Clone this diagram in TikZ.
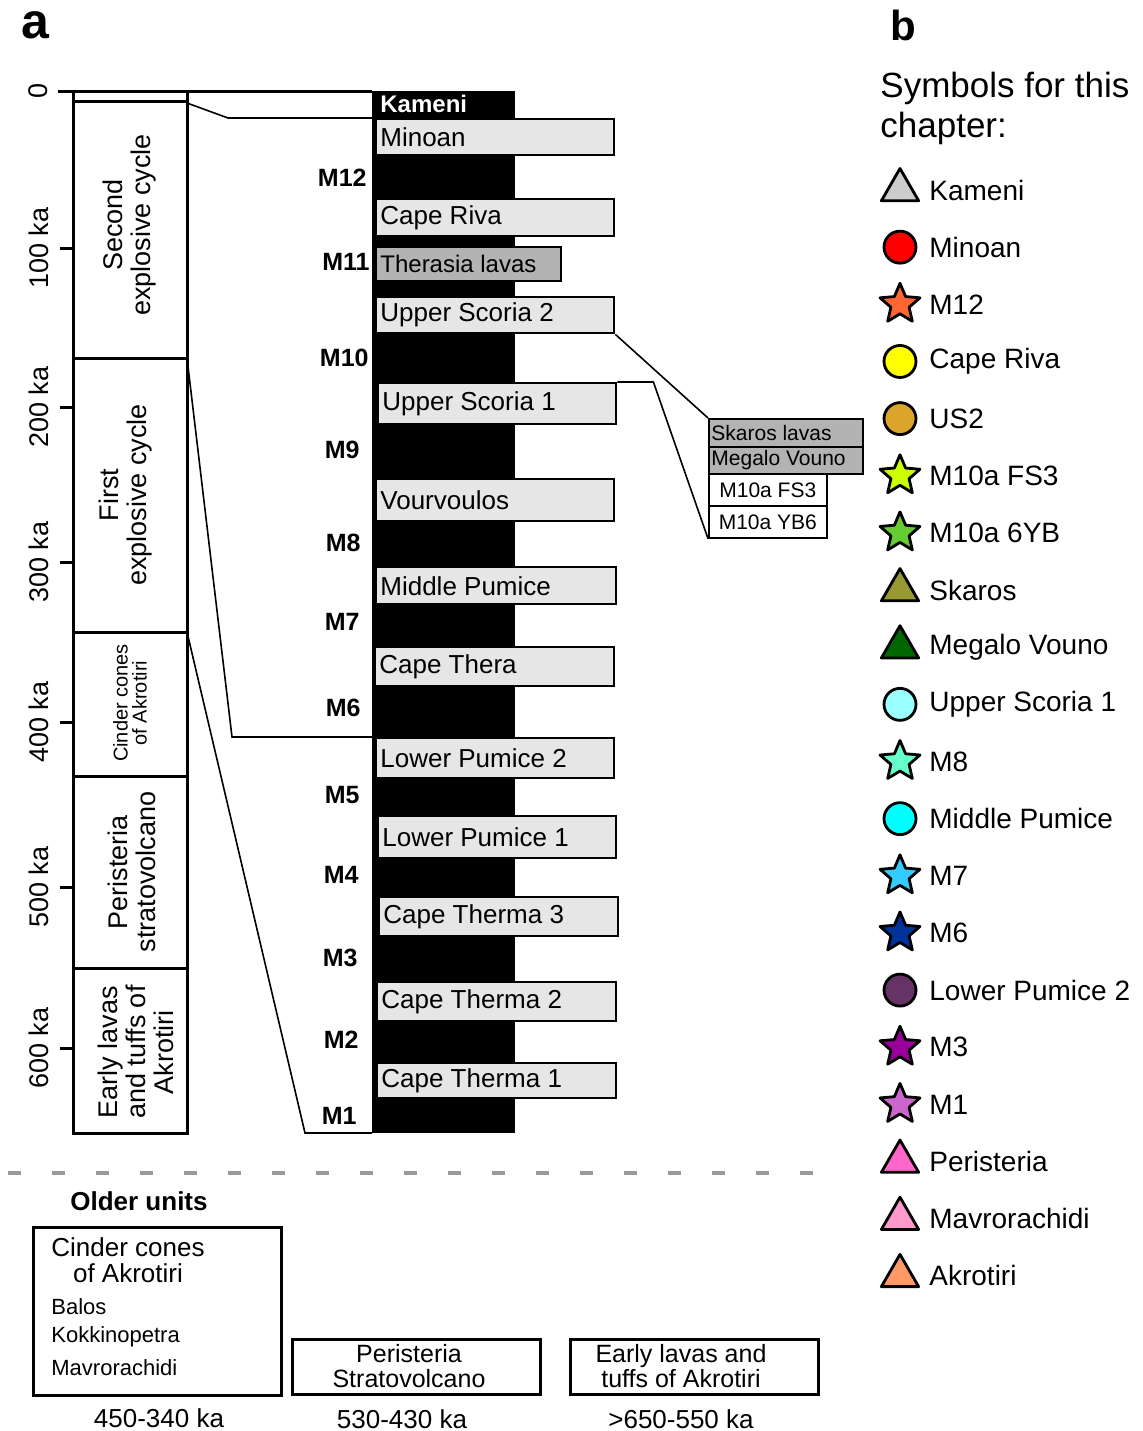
\documentclass[tikz,border=0pt]{standalone}
\usepackage{fontspec}
\setmainfont{Liberation Sans}
\usetikzlibrary{shapes.geometric}

\definecolor{boxlight}{HTML}{E6E6E6}
\definecolor{boxdark}{HTML}{B3B3B3}
\definecolor{dashc}{HTML}{999999}
\definecolor{kamc}{HTML}{CCCCCC}
\definecolor{minc}{HTML}{FF0000}
\definecolor{m12c}{HTML}{FF6633}
\definecolor{rivc}{HTML}{FFFF00}
\definecolor{us2c}{HTML}{DAA52A}
\definecolor{fs3c}{HTML}{CCFF00}
\definecolor{ybc}{HTML}{66CC33}
\definecolor{skc}{HTML}{999933}
\definecolor{mvc}{HTML}{006600}
\definecolor{us1c}{HTML}{99FFFF}
\definecolor{m8c}{HTML}{66FFCC}
\definecolor{mpc}{HTML}{00FFFF}
\definecolor{m7c}{HTML}{33CCFF}
\definecolor{m6c}{HTML}{003399}
\definecolor{lp2c}{HTML}{663366}
\definecolor{m3c}{HTML}{990099}
\definecolor{m1c}{HTML}{CC66CC}
\definecolor{perc}{HTML}{FF66CC}
\definecolor{mavc}{HTML}{FF99CC}
\definecolor{akrc}{HTML}{FF9966}

\tikzset{
  frame/.style={line width=1.5pt},
  link/.style={line width=0.8pt},
  axlabel/.style={font=\fontsize{13.5}{14}\selectfont, rotate=90, inner sep=0pt},
  unittext/.style={font=\fontsize{13.5}{14}\selectfont, rotate=90, align=center, inner sep=0pt},
  mlabel/.style={font=\fontsize{12.5}{12.5}\selectfont\bfseries, inner sep=0pt, anchor=east},
  graybox/.style={draw, line width=1.2pt, anchor=north west, inner sep=0pt},
  boxtext/.style={font=\fontsize{13}{13}\selectfont, inner sep=0pt, anchor=west},
  sidebox/.style={draw, line width=0.8pt, anchor=north west, inner sep=0pt},
  sidetext/.style={font=\fontsize{10.5}{10.5}\selectfont, inner sep=0pt},
  legtext/.style={font=\fontsize{14}{14}\selectfont, inner sep=0pt, anchor=west},
  trimark/.style={regular polygon, regular polygon sides=3, draw, line width=1.4pt, line join=round, minimum size=21.5pt, inner sep=0pt},
  dotmark/.style={circle, draw, line width=1.4pt, minimum size=16pt, inner sep=0pt},
  starmark/.style={star, star points=5, star point ratio=2.2, draw, line width=1.4pt, line join=round, minimum size=21pt, inner sep=0pt},
  olderbox/.style={draw, line width=1.4pt, anchor=north west, inner sep=0pt},
  oldertext/.style={font=\fontsize{12.5}{12.5}\selectfont, align=center, inner sep=0pt}
}

\begin{document}
\begin{tikzpicture}[x=0.5pt, y=-0.5pt]
  \useasboundingbox (0,0) rectangle (1142,1431);

  % panel letters
  \node[font=\fontsize{25}{25}\selectfont\bfseries, inner sep=0pt] (pa) at (35,25) {a};
  \node[font=\fontsize{21}{21}\selectfont\bfseries, inner sep=0pt] (pb) at (903,25) {b};

  % age axis and unit column
  \draw[frame] (58,91) -- (372,91);
  \draw[frame] (73,91) -- (73,1133) -- (187,1133) -- (187,91);
  \foreach \yy in {101,358,632,776,968}
    \draw[frame] (73,\yy) -- (187,\yy);
  \node[axlabel] (ax0) at (38,91) {0};
  \foreach \a/\yy in {100/248,200/407,300/562,400/722,500/887,600/1048} {
    \draw[frame] (60,\yy) -- (73,\yy);
    \node[axlabel] (ax\a) at (39,\yy) {\a\ ka};
  }
  \node[unittext] (second) at (130,225) {Second\\explosive cycle};
  \node[unittext] (first) at (126,495) {First\\explosive cycle};
  \node[unittext, font=\fontsize{10}{9.5}\selectfont] (cinderc) at (130,703) {Cinder cones\\of Akrotiri};
  \node[unittext] (peris) at (132,872) {Peristeria\\stratovolcano};
  \node[unittext] (early) at (136,1052) {Early lavas\\and tuffs of\\Akrotiri};
  \coordinate (b0) at (187,103);
  \coordinate (b2) at (187,358);
  \coordinate (b3) at (187,632);

  % stratigraphic column
  \fill (372,91) rectangle (515,1133);
  \coordinate (colfoot) at (372,1133);
  \node[font=\fontsize{12}{12}\selectfont\bfseries, text=white, inner sep=0pt, anchor=west] (kam) at (380,104) {Kameni};
  \foreach \nm/\xx/\yy/\w/\h/\lbl in {mino/375/118/238/36/Minoan, riva/375/198/238/37/Cape Riva,
      us2/375/296/238/36/Upper Scoria 2, us1/377/382/238/41/Upper Scoria 1,
      vour/375/478/238/42/Vourvoulos, mp/375/566/240/37/Middle Pumice,
      ct/374/646/239/39/Cape Thera, lp2/375/737/238/40/Lower Pumice 2,
      lp1/377/815/238/42/Lower Pumice 1, cth3/378/896/239/39/Cape Therma 3,
      cth2/376/981/239/39/Cape Therma 2, cth1/376/1062/239/35/Cape Therma 1} {
    \node[graybox, fill=boxlight, minimum width=\w*0.5pt, minimum height=\h*0.5pt] (\nm) at (\xx,\yy) {};
    \node[boxtext] (\nm-t) at ([xshift=2.5pt]\nm.west) {\lbl};
  }
  \node[graybox, fill=boxdark, minimum width=92.5pt, minimum height=17pt] (ther) at (375,246) {};
  \node[boxtext, font=\fontsize{12}{12}\selectfont] (ther-t) at ([xshift=2.5pt]ther.west) {Therasia lavas};
  \foreach \m/\xx/\yy in {12/367/178,11/370/262,10/369/358,9/360/450,8/361/543,7/360/622,
      6/361/708,5/360/795,4/359/875,3/358/958,2/359/1040,1/357/1116}
    \node[mlabel] (m\m) at (\xx,\yy) {M\m};

  % correlation lines
  \draw[link] (b0) -- ++(41,15) -- (mino.north west);
  \draw[link] (b2) -- ++(45,379) -- (lp2.north west);
  \draw[link] (b3) -- ++(118,501) -- (colfoot);

  % M10 detail
  \node[sidebox, fill=boxdark, minimum width=77pt, minimum height=14pt] (sk) at (708,418) {};
  \node[sidebox, fill=boxdark, minimum width=77pt, minimum height=13.5pt] (mv) at (708,446) {};
  \node[sidebox, fill=white, minimum width=59pt, minimum height=16pt] (fs3) at (708,473) {};
  \node[sidebox, fill=white, minimum width=59pt, minimum height=16pt] (yb6) at (708,505) {};
  \node[sidetext, anchor=west] (sk-t) at ([xshift=1.5pt]sk.west) {Skaros lavas};
  \node[sidetext, anchor=west] (mv-t) at ([xshift=1.5pt]mv.west) {Megalo Vouno};
  \node[sidetext] (fs3-t) at (fs3.center) {M10a FS3};
  \node[sidetext] (yb6-t) at (yb6.center) {M10a YB6};
  \draw[link] (us2.south east) -- (sk.north west);
  \draw[link] (us1.north east) -- ++(36,0) -- (yb6.south west);

  % older units
  \draw[dashc, line width=2pt, dash pattern=on 6.5pt off 15.5pt] (8,1173) -- (815,1173);
  \node[font=\fontsize{13}{13}\selectfont\bfseries, inner sep=0pt] (older) at (139,1201) {Older units};
  \node[olderbox, minimum width=124pt, minimum height=84pt] (cind) at (32,1226) {};
  \node[oldertext, font=\fontsize{13}{13}\selectfont] (cind-t) at (128,1260) {Cinder cones\\of Akrotiri};
  \foreach \nm/\yy/\lbl in {balos/1307/Balos, kokk/1337/Kokkinopetra, mavr/1368/Mavrorachidi}
    \node[font=\fontsize{11}{11}\selectfont, inner sep=0pt, anchor=west] (\nm) at (51,\yy) {\lbl};
  \node[olderbox, minimum width=124pt, minimum height=27.5pt] (peri) at (291,1338) {};
  \node[oldertext] (peri-t) at (409,1366) {Peristeria\\Stratovolcano};
  \node[olderbox, minimum width=124pt, minimum height=27.5pt] (lava) at (569,1338) {};
  \node[oldertext] (lava-t) at (681,1366) {Early lavas and\\tuffs of Akrotiri};
  \node[font=\fontsize{13}{13}\selectfont, inner sep=0pt] (age1) at (159,1418) {450-340 ka};
  \node[font=\fontsize{13}{13}\selectfont, inner sep=0pt] (age2) at (402,1419) {530-430 ka};
  \node[font=\fontsize{13}{13}\selectfont, inner sep=0pt] (age3) at (681,1419) {>650-550 ka};

  % legend
  \node[font=\fontsize{17.5}{20}\selectfont, align=left, inner sep=0pt, anchor=west] (legtitle) at (880,108) {Symbols for this\\chapter:};
  \foreach \shp/\col/\lbl [count=\i from 0] in {trimark/kamc/Kameni, dotmark/minc/Minoan,
      starmark/m12c/M12, dotmark/rivc/Cape Riva, dotmark/us2c/US2, starmark/fs3c/M10a FS3,
      starmark/ybc/M10a 6YB, trimark/skc/Skaros, trimark/mvc/Megalo Vouno,
      dotmark/us1c/Upper Scoria 1, starmark/m8c/M8, dotmark/mpc/Middle Pumice,
      starmark/m7c/M7, starmark/m6c/M6, dotmark/lp2c/Lower Pumice 2, starmark/m3c/M3,
      starmark/m1c/M1, trimark/perc/Peristeria, trimark/mavc/Mavrorachidi, trimark/akrc/Akrotiri} {
    \node[\shp, fill=\col] (sym\i) at (900,{190+57.15*\i}) {};
    \node[legtext] (leg\i) at (929,{190+57.15*\i}) {\lbl};
  }
\end{tikzpicture}
\end{document}
